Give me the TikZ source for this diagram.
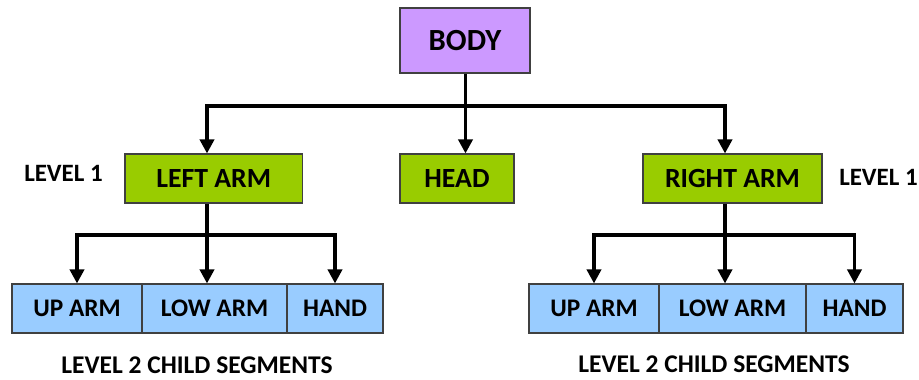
\documentclass[tikz,border=0pt]{standalone}
\usepackage{fontspec}
\setmainfont{Carlito}
\usepackage{tikz}
\usetikzlibrary{arrows.meta}
\definecolor{bodycol}{HTML}{CC99FF}
\definecolor{levonecol}{HTML}{99CC00}
\definecolor{levtwocol}{HTML}{99CCFF}
\definecolor{edgecol}{HTML}{404040}
\tikzset{
	box/.style={draw=edgecol, line width=0.6pt, inner sep=0pt, minimum height=0.98cm, font=\bfseries\fontsize{14.4}{17}\selectfont},
	rootbox/.style={box, fill=bodycol, minimum width=2.6cm, minimum height=1.3cm, font=\bfseries\fontsize{17.5}{21}\selectfont},
	armbox/.style={box, fill=levonecol, font=\bfseries\fontsize{15.8}{19}\selectfont},
	segbox/.style={box, fill=levtwocol},
	lbl/.style={font=\bfseries\fontsize{14.2}{17}\selectfont, inner sep=0pt},
	link/.style={line width=2.2pt},
	arr/.style={link, -{Triangle[length=8pt, width=8pt]}}
}

\begin{document}
\begin{tikzpicture}
			\useasboundingbox (0,0) rectangle (18.38,-7.58);

			\node[rootbox] (body) at (9.30, -0.81) {BODY};

			\node[armbox, minimum width=3.55cm] (larm) at (4.275, -3.57) {LEFT ARM};
			\node[armbox, minimum width=2.28cm] (head) at (9.14, -3.57) {HEAD};
			\node[armbox, minimum width=3.58cm] (rarm) at (14.65, -3.57) {RIGHT ARM};

			\node[segbox, minimum width=2.6cm] (lup) at (1.54, -6.17) {UP ARM};
			\node[segbox, minimum width=2.9cm] (llow) at (4.29, -6.17) {LOW ARM};
			\node[segbox, minimum width=1.92cm] (lhand) at (6.70, -6.17) {HAND};

			\node[segbox, minimum width=2.6cm] (rup) at (11.88, -6.17) {UP ARM};
			\node[segbox, minimum width=2.94cm] (rlow) at (14.65, -6.17) {LOW ARM};
			\node[segbox, minimum width=1.94cm] (rhand) at (17.09, -6.17) {HAND};

			\node[lbl] (lev1l) at (1.27, -3.47) {LEVEL 1};
			\node[lbl] (lev1r) at (17.57, -3.55) {LEVEL 1};
			\node[lbl, font=\bfseries\fontsize{14.5}{17}\selectfont] (lev2l) at (3.94, -7.30) {LEVEL 2 CHILD SEGMENTS};
			\node[lbl, font=\bfseries\fontsize{14.5}{17}\selectfont] (lev2r) at (14.28, -7.29) {LEVEL 2 CHILD SEGMENTS};

			\coordinate (C1) at (9.31, -2.12);
			\coordinate (C2) at (4.14, -4.70);
			\coordinate (C3) at (14.50, -4.70);

			\draw[link] (body.south -| C1) -- (C1);
			\draw[arr] (C1) -| ([xshift=-0.135cm]larm.north);
			\draw[arr] (C1) -- (C1 |- head.north);
			\draw[arr] (C1) -| ([xshift=-0.15cm]rarm.north);

			\draw[link] (larm.south -| C2) -- (C2);
			\draw[arr] (C2) -| (lup);
			\draw[arr] (C2) -- (C2 |- llow.north);
			\draw[arr] (C2) -| (lhand);

			\draw[link] (rarm.south -| C3) -- (C3);
			\draw[arr] (C3) -| (rup);
			\draw[arr] (C3) -- (C3 |- rlow.north);
			\draw[arr] (C3) -| (rhand);
		\end{tikzpicture}
\end{document}
